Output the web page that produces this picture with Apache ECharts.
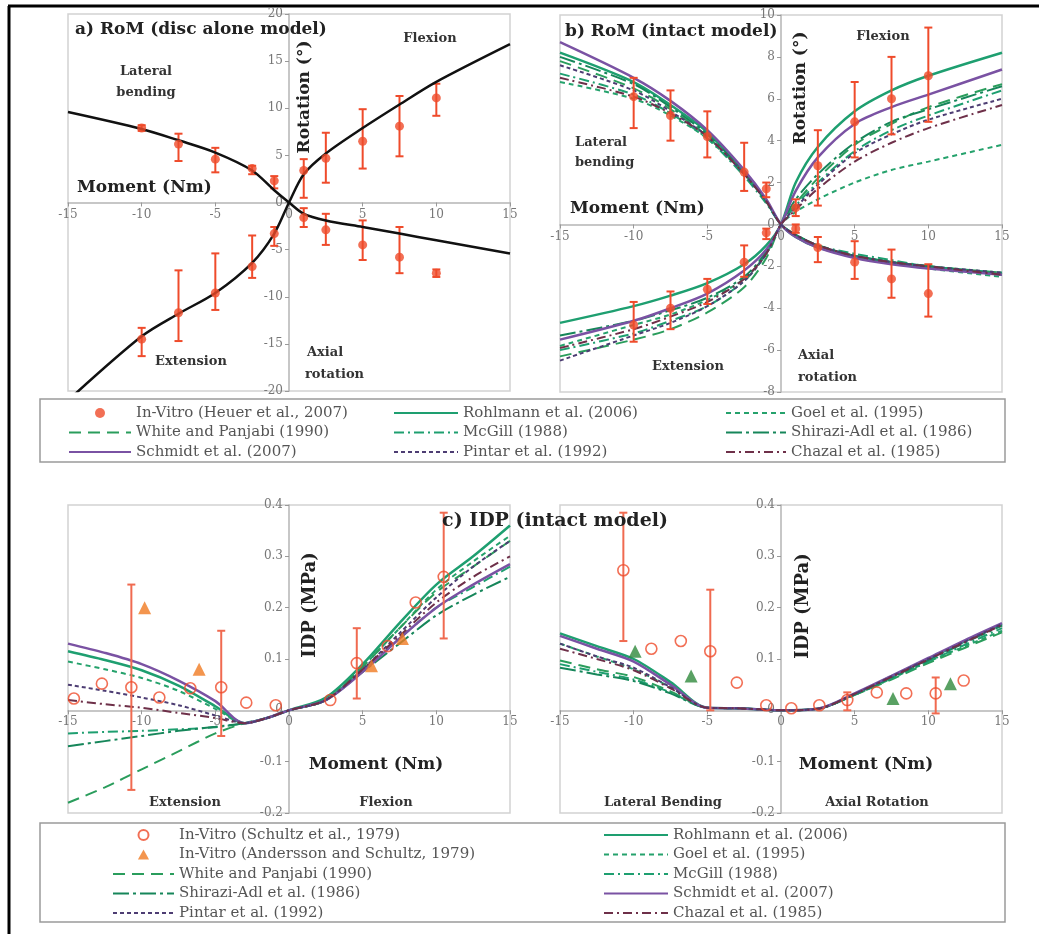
<!DOCTYPE html>
<html>
<head>
<meta charset="utf-8">
<script src="https://cdn.jsdelivr.net/npm/echarts@6/dist/echarts.min.js"></script>
<style>html,body{margin:0;background:#fff}#main{width:1039px;height:934px}</style>
</head>
<body>
<div id="main"></div>
<script>
(function () {
  var serif = 'DejaVu Serif';
  var red = '#ef4b2b';

  // ---- model names (same order in every table below)
  var modelNames = ['Rohlmann et al. (2006)', 'Goel et al. (1995)', 'White and Panjabi (1990)', 'McGill (1988)',
    'Shirazi-Adl et al. (1986)', 'Schmidt et al. (2007)', 'Pintar et al. (1992)', 'Chazal et al. (1985)'];

  // ---- a) disc alone model
  var discMoment = [-15, -10, -7.5, -5, -2.5, -1, 0, 1, 2.5, 5, 7.5, 10, 15];
  var discFE = [-21, -14.2, -11.8, -9.6, -6.4, -3.3, 0, 3.0, 5.2, 7.9, 10.4, 12.8, 16.8];
  var discLA = [9.6, 7.8, 6.6, 5.3, 3.4, 1.3, 0, -1.2, -1.9, -2.6, -3.3, -4.0, -5.4];

  // in vitro (Heuer et al., 2007) – flexion/extension and lateral bending/axial rotation
  var heuerMoment = [-10, -7.5, -5, -2.5, -1, 1, 2.5, 5, 7.5, 10];
  var discVitroFE = [-14.5, -11.7, -9.6, -6.8, -3.3, 3.4, 4.7, 6.5, 8.1, 11.1];
  var discVitroFELo = [-16.3, -14.7, -11.4, -8.0, -4.6, 0.5, 2.1, 3.6, 4.9, 9.2];
  var discVitroFEHi = [-13.3, -7.2, -5.4, -3.5, -2.6, 4.6, 7.4, 9.9, 11.3, 12.6];
  var discVitroLA = [7.9, 6.2, 4.6, 3.6, 2.3, -1.6, -2.9, -4.5, -5.8, -7.5];
  var discVitroLALo = [7.6, 4.4, 3.2, 3.0, 1.5, -2.6, -4.5, -6.1, -7.5, -7.9];
  var discVitroLAHi = [8.2, 7.3, 5.8, 3.9, 2.8, -0.6, -1.2, -1.9, -2.6, -7.1];

  // ---- b) RoM intact model
  var romMoment = [-15, -10, -7.5, -5, -2.5, -1, 0, 1, 2.5, 5, 7.5, 10, 15];
  var romFE = [
    [-4.7, -3.9, -3.4, -2.8, -1.9, -1.0, 0, 2.0, 3.7, 5.4, 6.4, 7.1, 8.2],
    [-5.8, -4.8, -4.3, -3.6, -2.6, -1.4, 0, 0.6, 1.2, 2.0, 2.6, 3.0, 3.8],
    [-6.3, -5.5, -5.0, -4.2, -3.0, -1.6, 0, 1.0, 2.2, 3.8, 4.8, 5.6, 6.7],
    [-6.0, -5.2, -4.6, -3.9, -2.7, -1.4, 0, 0.9, 2.0, 3.5, 4.5, 5.2, 6.4],
    [-5.3, -4.6, -4.1, -3.5, -2.5, -1.3, 0, 1.2, 2.4, 3.9, 4.9, 5.5, 6.6],
    [-5.5, -4.6, -4.0, -3.3, -2.2, -1.2, 0, 1.6, 3.2, 4.8, 5.6, 6.2, 7.4],
    [-6.5, -5.3, -4.7, -3.9, -2.7, -1.4, 0, 0.8, 1.9, 3.4, 4.3, 5.0, 6.0],
    [-5.9, -5.0, -4.4, -3.7, -2.6, -1.4, 0, 0.7, 1.7, 3.0, 3.9, 4.6, 5.7]
  ];
  var romLA = [
    [8.2, 6.8, 5.7, 4.4, 2.5, 1.1, 0, -0.6, -1.1, -1.5, -1.8, -2.0, -2.4],
    [6.8, 6.0, 5.2, 4.1, 2.4, 1.1, 0, -0.5, -1.0, -1.5, -1.8, -2.1, -2.5],
    [7.8, 6.5, 5.5, 4.2, 2.4, 1.1, 0, -0.5, -1.0, -1.5, -1.8, -2.0, -2.3],
    [7.2, 6.2, 5.3, 4.1, 2.3, 1.0, 0, -0.5, -1.0, -1.4, -1.7, -2.0, -2.3],
    [8.0, 6.7, 5.6, 4.3, 2.5, 1.1, 0, -0.5, -1.0, -1.5, -1.8, -2.0, -2.4],
    [8.7, 7.0, 5.9, 4.5, 2.6, 1.2, 0, -0.6, -1.1, -1.6, -1.9, -2.1, -2.4],
    [7.6, 6.4, 5.4, 4.2, 2.4, 1.1, 0, -0.5, -1.0, -1.5, -1.8, -2.0, -2.3],
    [7.0, 6.1, 5.3, 4.2, 2.4, 1.1, 0, -0.5, -1.0, -1.5, -1.8, -2.0, -2.4]
  ];
  var intactVitroFE = [-4.8, -4.0, -3.1, -1.8, -0.4, 0.8, 2.8, 4.9, 6.0, 7.1];
  var intactVitroFELo = [-5.6, -5.0, -3.8, -2.5, -0.7, 0.4, 0.9, 3.2, 4.3, 4.9];
  var intactVitroFEHi = [-3.7, -3.2, -2.6, -1.0, -0.2, 1.2, 4.5, 6.8, 8.0, 9.4];
  var intactVitroLA = [6.1, 5.2, 4.2, 2.5, 1.7, -0.2, -1.1, -1.8, -2.6, -3.3];
  var intactVitroLALo = [4.6, 4.0, 3.2, 1.6, 1.3, -0.4, -1.8, -2.6, -3.5, -4.4];
  var intactVitroLAHi = [7.0, 6.4, 5.4, 3.9, 2.0, 0.0, -0.6, -0.8, -1.2, -1.9];

  // ---- c) IDP intact model
  var idpMoment = [-15, -12.5, -10, -7.5, -5, -3, -1.5, 0, 2.5, 5, 7.5, 10, 12.5, 15];
  var idpFE = [
    [0.115, 0.098, 0.078, 0.048, 0.008, -0.025, -0.015, 0, 0.025, 0.09, 0.17, 0.245, 0.3, 0.36],
    [0.095, 0.08, 0.063, 0.038, 0.003, -0.025, -0.015, 0, 0.02, 0.085, 0.16, 0.235, 0.29, 0.34],
    [-0.18, -0.15, -0.115, -0.08, -0.045, -0.025, -0.015, 0, 0.02, 0.085, 0.16, 0.23, 0.28, 0.33],
    [-0.045, -0.042, -0.04, -0.037, -0.033, -0.025, -0.015, 0, 0.02, 0.08, 0.14, 0.2, 0.24, 0.28],
    [-0.07, -0.06, -0.05, -0.04, -0.032, -0.025, -0.015, 0, 0.02, 0.075, 0.13, 0.185, 0.225, 0.26],
    [0.13, 0.112, 0.09, 0.058, 0.018, -0.025, -0.015, 0, 0.02, 0.075, 0.14, 0.2, 0.245, 0.285],
    [0.05, 0.038, 0.025, 0.01, -0.01, -0.025, -0.015, 0, 0.02, 0.08, 0.15, 0.22, 0.28, 0.33],
    [0.02, 0.012, 0.005, -0.005, -0.015, -0.025, -0.015, 0, 0.02, 0.08, 0.145, 0.21, 0.26, 0.3]
  ];
  var idpLA = [
    [0.15, 0.125, 0.1, 0.055, 0.005, 0.004, 0.002, 0, 0.003, 0.032, 0.066, 0.1, 0.135, 0.168],
    [0.13, 0.105, 0.08, 0.045, 0.005, 0.004, 0.002, 0, 0.003, 0.03, 0.062, 0.095, 0.125, 0.155],
    [0.097, 0.08, 0.065, 0.037, 0.005, 0.004, 0.002, 0, 0.003, 0.03, 0.06, 0.092, 0.122, 0.152],
    [0.09, 0.075, 0.06, 0.035, 0.005, 0.004, 0.002, 0, 0.003, 0.03, 0.062, 0.095, 0.128, 0.16],
    [0.083, 0.07, 0.057, 0.033, 0.005, 0.004, 0.002, 0, 0.003, 0.031, 0.064, 0.098, 0.132, 0.165],
    [0.145, 0.12, 0.095, 0.05, 0.005, 0.004, 0.002, 0, 0.003, 0.033, 0.067, 0.102, 0.137, 0.17],
    [0.13, 0.105, 0.083, 0.045, 0.005, 0.004, 0.002, 0, 0.003, 0.032, 0.066, 0.1, 0.134, 0.168],
    [0.12, 0.1, 0.078, 0.043, 0.005, 0.004, 0.002, 0, 0.003, 0.032, 0.065, 0.099, 0.133, 0.166]
  ];
  // in vitro (Schultz et al., 1979)
  var schultzFEMoment = [-14.6, -12.7, -10.7, -8.8, -6.7, -4.6, -2.9, -0.9, 2.8, 4.6, 6.7, 8.6, 10.5];
  var schultzFE = [0.023, 0.052, 0.045, 0.025, 0.043, 0.045, 0.015, 0.01, 0.02, 0.092, 0.125, 0.21, 0.26];
  var schultzFEErrMoment = [-10.7, -4.6, 4.6, 10.5];
  var schultzFELo = [-0.155, -0.05, 0.023, 0.14];
  var schultzFEHi = [0.245, 0.155, 0.16, 0.385];
  var schultzLAMoment = [-10.7, -8.8, -6.8, -4.8, -3.0, -1.0, 0.7, 2.6, 4.5, 6.5, 8.5, 10.5, 12.4];
  var schultzLA = [0.273, 0.12, 0.135, 0.115, 0.054, 0.01, 0.004, 0.01, 0.02, 0.035, 0.033, 0.033, 0.058];
  var schultzLAErrMoment = [-10.7, -4.8, 4.5, 10.5];
  var schultzLALo = [0.135, 0.0, 0.0, -0.006];
  var schultzLAHi = [0.385, 0.235, 0.035, 0.064];
  // in vitro (Andersson and Schultz, 1979)
  var anderssonFEMoment = [-9.8, -6.1, 5.6, 7.7];
  var anderssonFE = [0.2, 0.08, 0.087, 0.14];
  var anderssonLAMoment = [-9.9, -6.1, 7.6, 11.5];
  var anderssonLA = [0.115, 0.067, 0.023, 0.052];

  var modelStyles = [
    { color: '#1e9f70', type: 'solid', width: 2.5 },
    { color: '#25a26c', type: [5, 4], width: 2 },
    { color: '#2a9d5c', type: [12, 7], width: 2 },
    { color: '#1e9f70', type: [10, 4, 2, 4], width: 2 },
    { color: '#16865a', type: [16, 4, 3, 4], width: 2 },
    { color: '#7a52a3', type: 'solid', width: 2.5 },
    { color: '#4d3d73', type: [4, 3], width: 2 },
    { color: '#6e3049', type: [9, 4, 2, 4], width: 2 }
  ];

  function zip(xs, ys) { return xs.map(function (x, i) { return [x, ys[i]]; }); }

  function errorBars(xs, lo, hi, grid, color) {
    return {
      type: 'custom', xAxisIndex: grid, yAxisIndex: grid, silent: true, z: 3,
      data: xs.map(function (x, i) { return [x, lo[i], hi[i]]; }),
      encode: { x: 0, y: [1, 2] },
      renderItem: function (params, api) {
        var x = api.value(0);
        var a = api.coord([x, api.value(1)]);
        var b = api.coord([x, api.value(2)]);
        var st = { stroke: color, lineWidth: 2 };
        return { type: 'group', children: [
          { type: 'line', shape: { x1: a[0], y1: a[1], x2: b[0], y2: b[1] }, style: st },
          { type: 'line', shape: { x1: a[0] - 4, y1: a[1], x2: a[0] + 4, y2: a[1] }, style: st },
          { type: 'line', shape: { x1: b[0] - 4, y1: b[1], x2: b[0] + 4, y2: b[1] }, style: st }
        ] };
      }
    };
  }

  var series = [];
  // a) disc model curves
  [discFE, discLA].forEach(function (ys) {
    series.push({ type: 'line', xAxisIndex: 0, yAxisIndex: 0, data: zip(discMoment, ys), symbol: 'none',
      smooth: 0.3, lineStyle: { color: '#111', width: 2.5 }, silent: true });
  });
  // b, c) model curves
  modelNames.forEach(function (name, i) {
    var s = modelStyles[i];
    [[1, romMoment, romFE[i]], [1, romMoment, romLA[i]], [2, idpMoment, idpFE[i]], [3, idpMoment, idpLA[i]]]
      .forEach(function (p) {
        series.push({ name: name, type: 'line', xAxisIndex: p[0], yAxisIndex: p[0],
          data: zip(p[1], p[2]), symbol: 'none', smooth: 0.3, color: s.color,
          lineStyle: { color: s.color, width: s.width, type: s.type }, z: 2 });
      });
  });
  // in vitro points
  series.push({ name: 'In-Vitro (Heuer et al., 2007)', type: 'scatter', xAxisIndex: 0, yAxisIndex: 0,
    data: zip(heuerMoment, discVitroFE).concat(zip(heuerMoment, discVitroLA)), symbolSize: 9, color: red, z: 4 });
  series.push({ name: 'In-Vitro (Heuer et al., 2007)', type: 'scatter', xAxisIndex: 1, yAxisIndex: 1,
    data: zip(heuerMoment, intactVitroFE).concat(zip(heuerMoment, intactVitroLA)), symbolSize: 9, color: red, z: 4 });
  series.push(errorBars(heuerMoment.concat(heuerMoment), discVitroFELo.concat(discVitroLALo), discVitroFEHi.concat(discVitroLAHi), 0, red));
  series.push(errorBars(heuerMoment.concat(heuerMoment), intactVitroFELo.concat(intactVitroLALo), intactVitroFEHi.concat(intactVitroLAHi), 1, red));

  series.push({ name: 'In-Vitro (Schultz et al., 1979)', type: 'scatter', xAxisIndex: 2, yAxisIndex: 2,
    data: zip(schultzFEMoment, schultzFE), symbolSize: 11, color: red,
    itemStyle: { color: 'rgba(255,255,255,0)', borderColor: red, borderWidth: 1.6 }, z: 4 });
  series.push({ name: 'In-Vitro (Schultz et al., 1979)', type: 'scatter', xAxisIndex: 3, yAxisIndex: 3,
    data: zip(schultzLAMoment, schultzLA), symbolSize: 11, color: red,
    itemStyle: { color: 'rgba(255,255,255,0)', borderColor: red, borderWidth: 1.6 }, z: 4 });
  series.push(errorBars(schultzFEErrMoment, schultzFELo, schultzFEHi, 2, '#f06a50'));
  series.push(errorBars(schultzLAErrMoment, schultzLALo, schultzLAHi, 3, '#f06a50'));
  series.push({ name: 'In-Vitro (Andersson and Schultz, 1979)', type: 'scatter', xAxisIndex: 2, yAxisIndex: 2,
    data: zip(anderssonFEMoment, anderssonFE), symbol: 'triangle', symbolSize: 13, color: '#f07a22', z: 4 });
  series.push({ name: 'In-Vitro (Andersson and Schultz, 1979)', type: 'scatter', xAxisIndex: 3, yAxisIndex: 3,
    data: zip(anderssonLAMoment, anderssonLA), symbol: 'triangle', symbolSize: 13, color: '#2f8a3c', z: 4 });

  var gridBoxes = [
    { left: 68, top: 14, width: 442, height: 377 },
    { left: 560, top: 15, width: 442, height: 377 },
    { left: 68, top: 505, width: 442, height: 308 },
    { left: 560, top: 505, width: 442, height: 308 }
  ];
  var xRanges = [[-15, 15, 5], [-15, 15, 5], [-15, 15, 5], [-15, 15, 5]];
  var yRanges = [[-20, 20, 5], [-8, 10, 2], [-0.2, 0.4, 0.1], [-0.2, 0.4, 0.1]];

  var grids = gridBoxes.map(function (g) {
    return Object.assign({ show: true, borderColor: '#d2d2d2', borderWidth: 1.5, backgroundColor: 'transparent' }, g);
  });

  function axisBase() {
    return {
      type: 'value',
      axisLine: { onZero: false, lineStyle: { color: '#b5b5b5', width: 1.5 } },
      axisTick: { show: true, length: 4, lineStyle: { color: '#999' } },
      axisLabel: { fontFamily: serif, fontSize: 12, color: '#777', margin: 6 },
      splitLine: { show: false }
    };
  }
  // axes cross at the origin: shift them from the grid edge to the zero line
  var xAxes = gridBoxes.map(function (g, i) {
    var yr = yRanges[i];
    return Object.assign(axisBase(), { gridIndex: i, min: xRanges[i][0], max: xRanges[i][1], interval: xRanges[i][2],
      position: 'bottom', offset: -g.height * (0 - yr[0]) / (yr[1] - yr[0]) });
  });
  var yAxes = gridBoxes.map(function (g, i) {
    var xr = xRanges[i];
    return Object.assign(axisBase(), { gridIndex: i, min: yRanges[i][0], max: yRanges[i][1], interval: yRanges[i][2],
      position: 'left', offset: -g.width * (0 - xr[0]) / (xr[1] - xr[0]) });
  });

  function legendCol(left, top, width, names) {
    return { orient: 'vertical', left: left, top: top, itemWidth: width, itemHeight: 10, itemGap: 3.5,
      padding: 0, selectedMode: false,
      data: names.map(function (n) {
        if (modelNames.indexOf(n) >= 0) return { name: n, itemStyle: { opacity: 0 } };
        if (n.indexOf('Andersson') >= 0) return { name: n, icon: 'path://M5,0L10,9L0,9Z' };
        return { name: n };
      }),
      textStyle: { fontFamily: serif, fontSize: 15, color: '#555', lineHeight: 16 } };
  }

  function txt(text, x, y, size, opt) {
    opt = opt || {};
    return { type: 'text', x: x, y: y, rotation: opt.rot || 0, z: 10,
      style: { text: text, font: (opt.bold === false ? '' : 'bold ') + size + 'px "' + serif + '"',
        fill: opt.color || '#222', align: opt.align || 'left', verticalAlign: 'middle' } };
  }
  var R = Math.PI / 2;

  var graphics = [
    { type: 'line', shape: { x1: 8, y1: 6, x2: 1039, y2: 6 }, style: { stroke: '#000', lineWidth: 3 } },
    { type: 'line', shape: { x1: 9, y1: 6, x2: 9, y2: 934 }, style: { stroke: '#000', lineWidth: 3 } },
    { type: 'rect', shape: { x: 40, y: 399, width: 965, height: 63 }, style: { fill: 'none', stroke: '#9a9a9a', lineWidth: 1.5 } },
    { type: 'rect', shape: { x: 40, y: 823, width: 965, height: 99 }, style: { fill: 'none', stroke: '#9a9a9a', lineWidth: 1.5 } },
    // a
    txt('a) RoM (disc alone model)', 75, 30, 17),
    txt('Flexion', 430, 39, 13, { align: 'center', color: '#333' }),
    txt('Lateral', 146, 72, 13, { align: 'center', color: '#333' }),
    txt('bending', 146, 93, 13, { align: 'center', color: '#333' }),
    txt('Moment (Nm)', 77, 188, 17),
    txt('Rotation (°)', 305, 97, 17, { align: 'center', rot: R }),
    txt('Extension', 191, 362, 13, { align: 'center', color: '#333' }),
    txt('Axial', 307, 353, 13, { color: '#333' }),
    txt('rotation', 305, 375, 13, { color: '#333' }),
    // b
    txt('b) RoM (intact model)', 565, 32, 17),
    txt('Flexion', 883, 37, 13, { align: 'center', color: '#333' }),
    txt('Lateral', 575, 143, 13, { color: '#333' }),
    txt('bending', 575, 163, 13, { color: '#333' }),
    txt('Moment (Nm)', 570, 209, 17),
    txt('Rotation (°)', 801, 88, 17, { align: 'center', rot: R }),
    txt('Extension', 688, 367, 13, { align: 'center', color: '#333' }),
    txt('Axial', 798, 356, 13, { color: '#333' }),
    txt('rotation', 798, 378, 13, { color: '#333' }),
    // c
    txt('c) IDP (intact model)', 555, 521, 19, { align: 'center' }),
    txt('IDP (MPa)', 310, 605, 18, { align: 'center', rot: R }),
    txt('Moment (Nm)', 376, 765, 17, { align: 'center' }),
    txt('Extension', 185, 803, 13, { align: 'center', color: '#333' }),
    txt('Flexion', 386, 803, 13, { align: 'center', color: '#333' }),
    txt('IDP (MPa)', 803, 606, 18, { align: 'center', rot: R }),
    txt('Moment (Nm)', 866, 765, 17, { align: 'center' }),
    txt('Lateral Bending', 663, 803, 13, { align: 'center', color: '#333' }),
    txt('Axial Rotation', 877, 803, 13, { align: 'center', color: '#333' })
  ];

  var myChart = echarts.init(document.getElementById('main'));
  myChart.setOption({
    animation: false,
    backgroundColor: '#fff',
    grid: grids,
    xAxis: xAxes,
    yAxis: yAxes,
    legend: [
      legendCol(68, 405, 62, ['In-Vitro (Heuer et al., 2007)', 'White and Panjabi (1990)', 'Schmidt et al. (2007)']),
      legendCol(393, 405, 64, ['Rohlmann et al. (2006)', 'McGill (1988)', 'Pintar et al. (1992)']),
      legendCol(725, 405, 60, ['Goel et al. (1995)', 'Shirazi-Adl et al. (1986)', 'Chazal et al. (1985)']),
      legendCol(112, 827, 61, ['In-Vitro (Schultz et al., 1979)', 'In-Vitro (Andersson and Schultz, 1979)',
        'White and Panjabi (1990)', 'Shirazi-Adl et al. (1986)', 'Pintar et al. (1992)']),
      legendCol(603, 827, 64, ['Rohlmann et al. (2006)', 'Goel et al. (1995)', 'McGill (1988)',
        'Schmidt et al. (2007)', 'Chazal et al. (1985)'])
    ],
    graphic: { elements: graphics },
    series: series
  });
  window.addEventListener('resize', function () { myChart.resize(); });
})();
</script>
</body>
</html>
